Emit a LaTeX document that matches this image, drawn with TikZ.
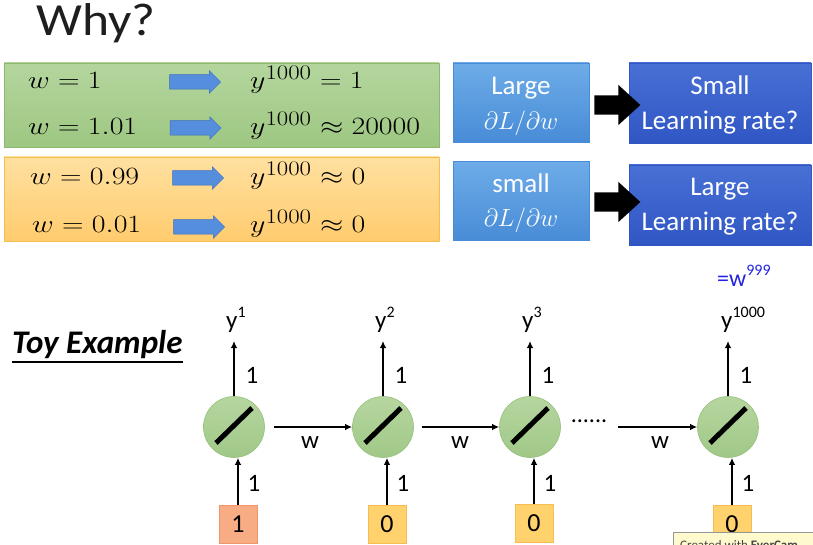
\documentclass[tikz,border=0pt]{standalone}
\usepackage{fontspec}
\setmainfont{Carlito}
\usetikzlibrary{arrows.meta,shapes.arrows}
\definecolor{gtop}{RGB}{180,214,158}
\definecolor{gbot}{RGB}{158,199,130}
\definecolor{gline}{RGB}{140,185,110}
\definecolor{otop}{RGB}{255,224,160}
\definecolor{obot}{RGB}{255,204,110}
\definecolor{oline}{RGB}{245,190,80}
\definecolor{lbtop}{RGB}{110,172,232}
\definecolor{lbbot}{RGB}{72,140,215}
\definecolor{dbtop}{RGB}{72,112,212}
\definecolor{dbbot}{RGB}{48,86,196}
\definecolor{arrblue}{RGB}{84,142,220}
\definecolor{arrline}{RGB}{60,110,190}
\definecolor{ctop}{RGB}{182,214,160}
\definecolor{cbot}{RGB}{160,200,135}
\definecolor{cline}{RGB}{150,192,122}
\definecolor{salmon}{RGB}{248,172,132}
\definecolor{salline}{RGB}{238,150,105}
\definecolor{yel}{RGB}{255,210,110}
\definecolor{yelline}{RGB}{248,188,80}
\definecolor{wblue}{RGB}{35,35,225}
\newcommand\fs[1]{\fontsize{#1}{#1}\selectfont}
\newcommand\mysup[1]{\raisebox{0.42em}{\fontsize{16}{16}\selectfont #1}}
\newcommand\wide[1]{\scalebox{1.2}[1]{#1}}
\tikzset{
  panel/.style={minimum width=435pt, minimum height=84pt, inner sep=0pt},
  gpanel/.style={panel, top color=gtop, bottom color=gbot, draw=gline, line width=0.8pt},
  opanel/.style={panel, top color=otop, bottom color=obot, draw=oline, line width=0.8pt},
  mtext/.style={anchor=base west, inner sep=0pt, font=\fs{27.5}},
  barrow/.style={single arrow, fill=arrblue, draw=arrline, line width=0.5pt,
    minimum height=51pt, inner sep=7pt, single arrow head extend=4pt, single arrow tip angle=90},
  karrow/.style={single arrow, fill=black, minimum height=46pt, inner sep=9.5pt,
    single arrow head extend=10.5pt, single arrow tip angle=85},
  lbox/.style={minimum width=136pt, minimum height=79pt, inner sep=0pt,
    top color=lbtop, bottom color=lbbot, draw=lbbot},
  dbox/.style={minimum width=182pt, minimum height=80pt, inner sep=0pt,
    top color=dbtop, bottom color=dbbot, draw=dbbot},
  wtext/.style={anchor=base, inner sep=0pt, text=white, font=\fs{27}},
  neuron/.style={circle, minimum size=61pt, inner sep=0pt, top color=ctop, bottom color=cbot, draw=cline, line width=0.6pt},
  inbox/.style={minimum width=38pt, minimum height=38pt, inner sep=0pt, font=\fs{26}},
  onebox/.style={inbox, fill=salmon, draw=salline},
  zerobox/.style={inbox, fill=yel, draw=yelline},
  conn/.style={line width=1.8pt, -{Latex[length=7pt,width=6.5pt]}},
  lbl/.style={inner sep=0pt, font=\fs{25}},
  ylbl/.style={anchor=base west, inner sep=0pt, font=\fs{25}},
}
\begin{document}
\begin{tikzpicture}[x=1pt,y=-1pt]
\useasboundingbox (0,0) rectangle (813,545);
\fill[white] (0,0) rectangle (813,545);
% title
\node[anchor=base west, inner sep=0pt, font=\fs{46}, text={rgb,255:red,30;green,30;blue,30}] (title) at (36,36) {\scalebox{1.12}[1]{Why?}};
% left panels
\node[gpanel] (gp) at (221.5,105) {};
\node[opanel] (op) at (221.5,199) {};
\node[mtext] (l1) at (28,89) {\wide{$w=1$}};
\node[mtext] (l2) at (28,135) {\wide{$w=1.01$}};
\node[mtext] (l3) at (30,185) {\wide{$w=0.99$}};
\node[mtext] (l4) at (32,233) {\wide{$w=0.01$}};
\node[mtext] (r1) at (250,89) {\wide{$y^{1000}=1$}};
\node[mtext] (r2) at (250,135) {\wide{$y^{1000}\approx 20000$}};
\node[mtext] (r3) at (250,185) {\wide{$y^{1000}\approx 0$}};
\node[mtext] (r4) at (250,233) {\wide{$y^{1000}\approx 0$}};
\node[barrow] (a1) at (191.5,82) {};
\node[barrow] (a2) at (192,128) {};
\node[barrow] (a3) at (194.5,178) {};
\node[barrow] (a4) at (195.5,227) {};
% right boxes
\node[lbox] (b1) at (521,102.5) {};
\node[dbox] (c1) at (720,103) {};
\node[lbox] (b2) at (521,201) {};
\node[dbox] (c2) at (720,205) {};
\node[wtext] (b1a) at (521,95) {Large};
\node[wtext] (b1b) at (521,130) {$\partial L/\partial w$};
\node[wtext] (c1a) at (720,95) {Small};
\node[wtext] (c1b) at (720,130) {Learning rate?};
\node[wtext] (b2a) at (521,193) {small};
\node[wtext] (b2b) at (521,227) {$\partial L/\partial w$};
\node[wtext] (c2a) at (720,196) {Large};
\node[wtext] (c2b) at (720,231) {Learning rate?};
\node[karrow] (k1) at (612,105) {};
\node[karrow] (k2) at (612,202) {};
% toy example
\node[anchor=base west, inner sep=0pt, font=\fs{33}\bfseries\itshape] (toy) at (12,353) {Toy Example};
\draw[line width=1.6pt] (toy.base west) ++(0,9) coordinate (u1) -- (u1 -| toy.east);
% neurons
\foreach \i/\x in {1/234,2/383,3/530,4/728}{
  \node[neuron] (n\i) at (\x,427) {};
  \draw[line width=5pt] ([shift={(-18,16)}]n\i.center) -- ([shift={(18,-19)}]n\i.center);
  \coordinate (t\i) at (\x,341);
  \draw[conn] (n\i.north) -- (t\i);
  \node[lbl] (u\i) at (\x+18,375) {1};
}
\node[ylbl] (y1) at (226,328) {y\mysup{1}};
\node[ylbl] (y2) at (375,328) {y\mysup{2}};
\node[ylbl] (y3) at (522,328) {y\mysup{3}};
\node[ylbl] (y4) at (721,328) {y\mysup{1000}};
\node[anchor=base west, inner sep=0pt, text=wblue, font=\fs{24}] (w999) at (717,286) {=w\raisebox{0.42em}{\fs{16}999}};
% inputs
\node[onebox] (x1) at (238,524) {1};
\node[zerobox] (x2) at (387,524) {0};
\node[zerobox] (x3) at (534,523) {0};
\node[zerobox] (x4) at (732,524) {0};
\foreach \i in {1,2,3,4}{
  \draw[conn] (x\i.north) -- (x\i.north |- n\i.south);
}
\node[lbl] (v1) at (254,483) {1};
\node[lbl] (v2) at (403,483) {1};
\node[lbl] (v3) at (550,483) {1};
\node[lbl] (v4) at (748,483) {1};
% recurrent connections
\draw[conn] ([xshift=9pt]n1.east) -- (n2.west);
\draw[conn] ([xshift=8pt]n2.east) -- (n3.west);
\node[inner sep=0pt, font=\fs{24}] (dots) at (589,421) {......};
\coordinate (s3) at (618,427);
\draw[conn] (s3) -- (n4.west);
\node[lbl] (w1) at (310,443) {w};
\node[lbl] (w2) at (460,443) {w};
\node[lbl] (w3) at (660,443) {w};
% watermark
\begin{scope}
\clip (0,0) rectangle (813,545);
\node[anchor=north west, minimum width=150pt, minimum height=24pt, fill={rgb,255:red,255;green,250;blue,205}, draw={rgb,255:red,150;green,150;blue,150}, line width=0.6pt, inner sep=0pt] (wm) at (673,532) {};
\node[anchor=base west, inner sep=0pt, font=\fs{13}, text={rgb,255:red,70;green,70;blue,70}] (wmt) at (680,549) {Created with \textbf{EverCam}};
\end{scope}
\end{tikzpicture}
\end{document}
